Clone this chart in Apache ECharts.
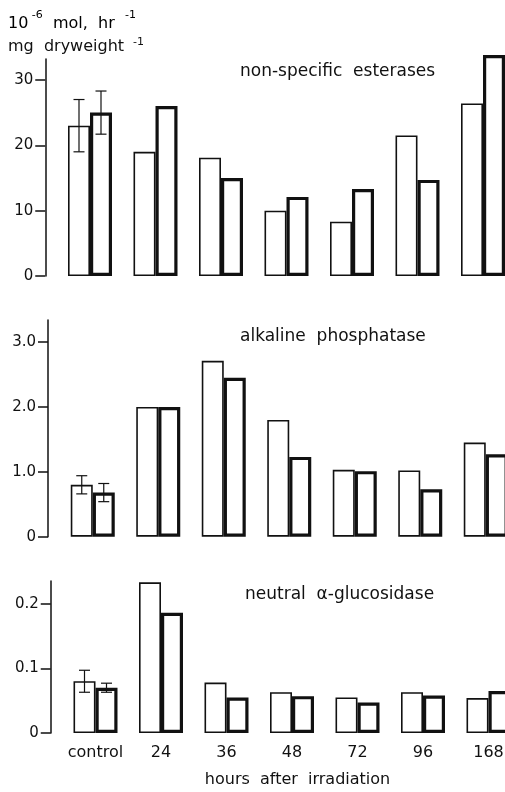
<!DOCTYPE html>
<html>
<head>
<meta charset="utf-8">
<script src="https://cdn.jsdelivr.net/npm/echarts@6/dist/echarts.min.js"></script>
<style>
  html, body { margin: 0; padding: 0; background: #fff; }
  #chart { width: 505px; height: 792px; }
</style>
</head>
<body>
<div id="chart"></div>
<script>
// Sampling times (hours after irradiation)
const categories = ['control', '24', '36', '48', '72', '96', '168'];

// Non-specific esterases (10^-6 mol/hr/mg dry weight)
const esteraseThin  = [23.0, 19.0, 18.1, 10.0, 8.3, 21.5, 26.4];
const esteraseThick = [25.0, 26.0, 15.0, 12.1, 13.3, 14.7, 33.8];
const esteraseCtrlErr = [4.0, 3.3];           // SD of the control bars
const esteraseTicks = [0, 10, 20, 30];
const esteraseTickLabels = ['0', '10', '20', '30'];

// Alkaline phosphatase
const phosphataseThin  = [0.80, 2.00, 2.71, 1.80, 1.03, 1.02, 1.45];
const phosphataseThick = [0.68, 2.00, 2.45, 1.23, 1.01, 0.73, 1.27];
const phosphataseCtrlErr = [0.14, 0.14];
const phosphataseTicks = [0, 1, 2, 3];
const phosphataseTickLabels = ['0', '1.0', '2.0', '3.0'];

// Neutral alpha-glucosidase
const glucosidaseThin  = [0.080, 0.233, 0.078, 0.063, 0.055, 0.063, 0.054];
const glucosidaseThick = [0.070, 0.186, 0.055, 0.057, 0.047, 0.058, 0.065];
const glucosidaseCtrlErr = [0.017, 0.007];
const glucosidaseTicks = [0, 0.1, 0.2];
const glucosidaseTickLabels = ['0', '0.1', '0.2'];

const FONT = 'DejaVu Sans';
const INK = '#111';
const BAR_W = 22;

const panels = [
  { thin: esteraseThin, thick: esteraseThick, err: esteraseCtrlErr,
    ticks: esteraseTicks, labels: esteraseTickLabels,
    max: 33.2, left: 57.25, top: 59, height: 217 },
  { thin: phosphataseThin, thick: phosphataseThick, err: phosphataseCtrlErr,
    ticks: phosphataseTicks, labels: phosphataseTickLabels,
    max: 3.34, left: 60, top: 320, height: 216.7 },
  { thin: glucosidaseThin, thick: glucosidaseThick, err: glucosidaseCtrlErr,
    ticks: glucosidaseTicks, labels: glucosidaseTickLabels,
    max: 0.235, left: 62.75, top: 581, height: 152 }
];

const grid = [], xAxis = [], yAxis = [], series = [];

panels.forEach((p, i) => {
  // the last category runs past the right edge of the canvas
  grid.push({ left: p.left, top: p.top, height: p.height, width: 458.5,
              containLabel: false, outerBoundsMode: 'none' });

  xAxis.push({
    gridIndex: i, type: 'category', data: categories,
    axisLine: { show: false }, axisTick: { show: false },
    splitLine: { show: false },
    axisLabel: { show: i === 2, interval: 0, hideOverlap: false, margin: 12,
                 fontFamily: FONT, fontSize: 16, color: INK }
  });

  yAxis.push({
    gridIndex: i, type: 'value', min: 0, max: p.max, offset: 12,
    axisLine: { show: true, lineStyle: { color: INK, width: 1.5 } },
    axisTick: { show: true, length: 10, customValues: p.ticks,
                lineStyle: { color: INK, width: 1.5 } },
    axisLabel: {
      customValues: p.ticks, margin: 12, fontFamily: FONT, fontSize: 15, color: INK,
      formatter: v => {
        const k = p.ticks.findIndex(t => Math.abs(t - v) < 1e-9);
        return k >= 0 ? p.labels[k] : '';
      }
    },
    splitLine: { show: false }
  });

  series.push({
    type: 'bar', xAxisIndex: i, yAxisIndex: i, data: p.thin,
    barWidth: BAR_W, barGap: '0%', clip: false, silent: true,
    itemStyle: { color: '#fff', borderColor: INK, borderWidth: 1.6 }
  });
  series.push({
    type: 'bar', xAxisIndex: i, yAxisIndex: i, data: p.thick,
    barWidth: BAR_W, barGap: '0%', clip: false, silent: true,
    itemStyle: { color: '#fff', borderColor: INK, borderWidth: 3.2 }
  });

  // Error bars on the two control bars: [category, low, high, side]
  const errData = [
    [0, p.thin[0] - p.err[0], p.thin[0] + p.err[0], -1],
    [0, p.thick[0] - p.err[1], p.thick[0] + p.err[1], 1]
  ];
  series.push({
    type: 'custom', xAxisIndex: i, yAxisIndex: i, data: errData,
    clip: false, silent: true, z: 10,
    renderItem: (params, api) => {
      const cat = api.value(0);
      const lo = api.coord([cat, api.value(1)]);
      const hi = api.coord([cat, api.value(2)]);
      const x = lo[0] + api.value(3) * BAR_W / 2;
      const cap = 5.5;
      const st = { stroke: INK, lineWidth: 1.2 };
      return {
        type: 'group',
        children: [
          { type: 'line', shape: { x1: x, y1: lo[1], x2: x, y2: hi[1] }, style: st },
          { type: 'line', shape: { x1: x - cap, y1: lo[1], x2: x + cap, y2: lo[1] }, style: st },
          { type: 'line', shape: { x1: x - cap, y1: hi[1], x2: x + cap, y2: hi[1] }, style: st }
        ]
      };
    }
  });
});

const unitRich = {
  b: { fontFamily: FONT, fontSize: 16, color: INK, lineHeight: 22, verticalAlign: 'bottom' },
  s: { fontFamily: FONT, fontSize: 11, color: INK, lineHeight: 11, verticalAlign: 'top' }
};

function label(text, x, y, size, align) {
  return {
    type: 'text', silent: true,
    style: { text, x, y, fill: INK, font: size + 'px "' + FONT + '"',
             textAlign: align || 'left', textVerticalAlign: 'middle' }
  };
}

const option = {
  animation: false,
  backgroundColor: '#fff',
  grid, xAxis, yAxis, series,
  graphic: [
    // unit of the activity axis, with superscript exponents
    { type: 'text', silent: true,
      style: { x: 8, y: 9.5, text: '{b|10}{s| -6}{b|  mol,  hr  }{s|-1}', rich: unitRich } },
    label('mg  dryweight', 8, 46.5, 16),
    label('-1', 133, 42, 11),
    label('non-specific  esterases', 240, 72, 17),
    label('alkaline  phosphatase', 240, 337, 17),
    label('neutral  \u03b1-glucosidase', 245, 595, 17),
    label('hours  after  irradiation', 297.5, 780, 16, 'center')
  ]
};

const chart = echarts.init(document.getElementById('chart'));
chart.setOption(option);
</script>
</body>
</html>
